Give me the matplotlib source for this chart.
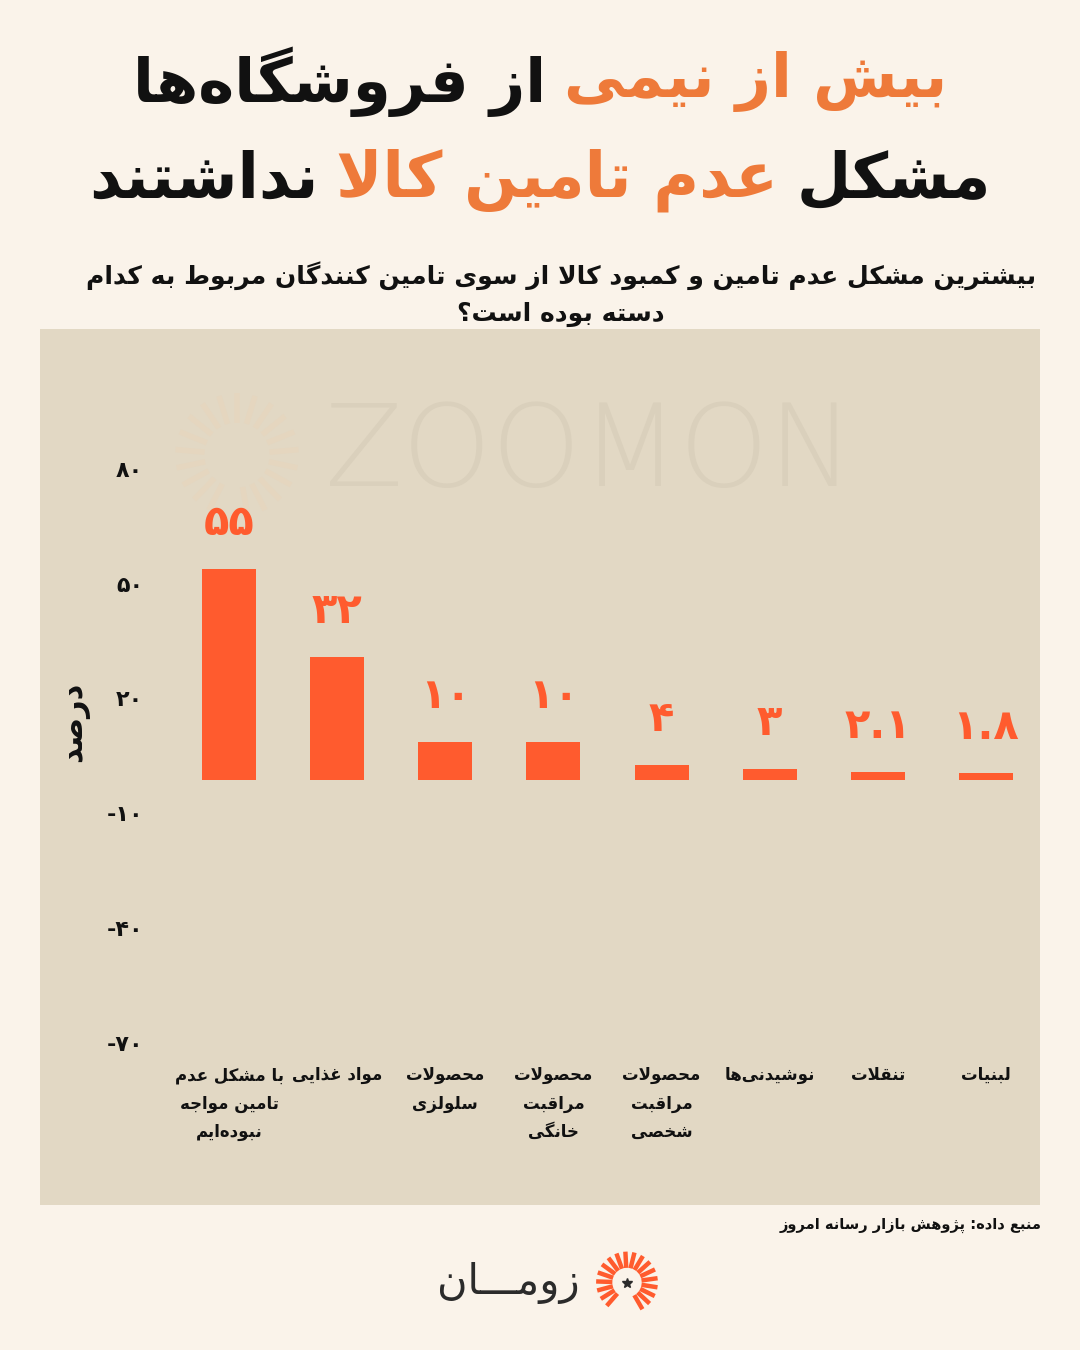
import matplotlib
matplotlib.use('Agg')
import matplotlib.pyplot as plt
from matplotlib.patches import Rectangle
from matplotlib.transforms import ScaledTranslation
import numpy as np

# ---- data ----
categories = ['با مشکل عدم\nتامین مواجه\nنبوده\u200cایم', 'مواد غذایی', 'محصولات\nسلولزی',
              'محصولات\nمراقبت\nخانگی', 'محصولات\nمراقبت\nشخصی', 'نوشیدنی\u200cها',
              'تنقلات', 'لبنیات']
values = [55, 32, 10, 10, 4, 3, 2.1, 1.8]
value_labels = ['۵۵', '۳۲', '۱۰', '۱۰', '۴', '۳', '۲.۱', '۱.۸']
yticks = [80, 50, 20, -10, -40, -70]
ytick_labels = ['۸۰', '۵۰', '۲۰', '-۱۰', '-۴۰', '-۷۰']

title_1 = [('بیش از نیمی', 'orange'), ('از فروشگاه\u200cها', 'black')]
title_2 = [('مشکل', 'black'), ('عدم تامین کالا', 'orange'), ('نداشتند', 'black')]
subtitle = ['بیشترین مشکل عدم تامین و کمبود کالا از سوی تامین کنندگان مربوط به کدام', 'دسته بوده است؟']
ylabel = 'درصد'
source = 'منبع داده: پژوهش بازار رسانه امروز'
brand = 'زومـــان'

BG = '#FAF3EA'
PANEL = '#E2D8C4'
BAR = '#FF5B2E'
ORANGE = '#EE7A3A'
INK = '#111111'

# ---- tiny Persian shaper (matplotlib has no RTL shaping) ----
# iso, final, initial, medial
FORMS = {}
def _four(ch, start):
    FORMS[ch] = (chr(start), chr(start + 1), chr(start + 2), chr(start + 3))
def _two(ch, start):
    FORMS[ch] = (chr(start), chr(start + 1), None, None)

_two('\u0622', 0xFE81); _two('\u0623', 0xFE83); _two('\u0624', 0xFE85); _two('\u0625', 0xFE87)
_four('\u0626', 0xFE89); _two('\u0627', 0xFE8D); _four('\u0628', 0xFE8F); _two('\u0629', 0xFE93)
_four('\u062A', 0xFE95); _four('\u062B', 0xFE99); _four('\u062C', 0xFE9D); _four('\u062D', 0xFEA1)
_four('\u062E', 0xFEA5); _two('\u062F', 0xFEA9); _two('\u0630', 0xFEAB); _two('\u0631', 0xFEAD)
_two('\u0632', 0xFEAF); _four('\u0633', 0xFEB1); _four('\u0634', 0xFEB5); _four('\u0635', 0xFEB9)
_four('\u0636', 0xFEBD); _four('\u0637', 0xFEC1); _four('\u0638', 0xFEC5); _four('\u0639', 0xFEC9)
_four('\u063A', 0xFECD); _four('\u0641', 0xFED1); _four('\u0642', 0xFED5); _four('\u0643', 0xFED9)
_four('\u0644', 0xFEDD); _four('\u0645', 0xFEE1); _four('\u0646', 0xFEE5); _four('\u0647', 0xFEE9)
_two('\u0648', 0xFEED); _two('\u0649', 0xFEEF); _four('\u064A', 0xFEF1)
_four('\u067E', 0xFB56); _four('\u0686', 0xFB7A); _two('\u0698', 0xFB8A)
_four('\u06A9', 0xFB8E); _four('\u06AF', 0xFB92); _four('\u06CC', 0xFBFC)
FORMS['\u0640'] = ('\u0640',) * 4  # tatweel joins both ways


def _dual(ch):
    return ch in FORMS and FORMS[ch][2] is not None


def shape(text):
    out = []
    n = len(text)
    i = 0
    while i < n:
        ch = text[i]
        if ch not in FORMS:
            if ch != '\u200c':
                out.append(ch)
            i += 1
            continue
        prev = text[i - 1] if i > 0 else ''
        joins_prev = _dual(prev)
        if ch == '\u0644' and i + 1 < n and text[i + 1] == '\u0627':
            out.append('\uFEFC' if joins_prev else '\uFEFB')
            i += 2
            continue
        nxt = text[i + 1] if i + 1 < n else ''
        joins_next = _dual(ch) and nxt in FORMS
        iso, fin, ini, med = FORMS[ch]
        if joins_prev and joins_next:
            out.append(med)
        elif joins_prev:
            out.append(fin)
        elif joins_next:
            out.append(ini)
        else:
            out.append(iso)
        i += 1
    return ''.join(out)[::-1]


def fa(text):
    return '\n'.join(shape(line) for line in text.split('\n'))


plt.rcParams['font.family'] = ['DejaVu Sans']

fig = plt.figure(figsize=(10.8, 13.5), dpi=100, facecolor=BG)
W, H = 1080, 1350

def fx(px):
    return px / W

def fy(py):
    return 1 - py / H

# chart panel
fig.patches.append(Rectangle((fx(40), fy(1205)), fx(1040) - fx(40), fy(329) - fy(1205),
                             transform=fig.transFigure, facecolor=PANEL, edgecolor='none', zorder=-5))

# watermark
fig.text(fx(590), fy(455), 'ZOOMON', fontsize=82, color='#DAD0BC', ha='center', va='center',
         fontweight='light', zorder=-4)
wm = fig.add_axes([fx(172), fy(520), fx(130), fy(390) - fy(520)], zorder=-4)
wm.set_xlim(-1, 1); wm.set_ylim(-1, 1); wm.set_aspect('equal'); wm.axis('off')
for ang in np.arange(-80, 250, 17):
    a = np.deg2rad(ang)
    wm.plot([0.5 * np.cos(a), 0.95 * np.cos(a)], [0.5 * np.sin(a), 0.95 * np.sin(a)],
            color='#E5D6BF', lw=4, solid_capstyle='butt')

# ---- axes ----
ppu = 3.83
zero_px = 780
ymax, ymin = 95, -75
top_px = zero_px - ymax * ppu
bot_px = zero_px - ymin * ppu
ax = fig.add_axes([fx(175), fy(bot_px), fx(1040) - fx(175), fy(top_px) - fy(bot_px)])
ax.set_facecolor('none')
x = np.arange(len(values))
ax.bar(x, values, width=0.5, color=BAR, zorder=3)
ax.set_xlim(-0.5, len(values) - 0.5)
ax.set_ylim(ymin, ymax)
for s in ax.spines.values():
    s.set_visible(False)
ax.set_yticks(yticks)
ax.set_yticklabels(ytick_labels, fontsize=16, fontweight='bold', color=INK)
ax.tick_params(axis='y', length=0, pad=23)
lift = ScaledTranslation(0, 5 / 100, fig.dpi_scale_trans)
for lbl in ax.get_yticklabels():
    lbl.set_transform(lbl.get_transform() + lift)
ax.set_xticks(x)
ax.set_xticklabels([fa(c) for c in categories], fontsize=12, fontweight='bold', color=INK,
                   va='top', linespacing=1.75)
# labels start just under the lowest tick (y ~ 1066 px)
ax.tick_params(axis='x', length=0, pad=-(bot_px - 1066) * 72 / 100)

for xi, v, t in zip(x, values, value_labels):
    ax.annotate(t, (xi, v), xytext=(0, 46), textcoords='offset pixels', ha='center', va='center',
                fontsize=30, fontweight='bold', color=BAR)

fig.text(fx(75), fy(722), fa(ylabel), rotation=90, fontsize=22, fontweight='bold', color=INK,
         ha='center', va='center')

# ---- titles ----
fig.canvas.draw()
renderer = fig.canvas.get_renderer()

def colored_line(parts, y_px, size, gap_px):
    cols = {'orange': ORANGE, 'black': INK}
    texts = []
    for t, c in parts:
        texts.append(fig.text(0, fy(y_px), fa(t), fontsize=size, fontweight='bold', color=cols[c],
                              ha='left', va='center'))
    widths = [tt.get_window_extent(renderer).width for tt in texts]
    total = sum(widths) + gap_px * (len(texts) - 1)
    right = W / 2 + total / 2
    for tt, w in zip(texts, widths):
        tt.set_x(fx(right - w))
        right -= w + gap_px

colored_line(title_1, 82, 44, 18)
colored_line(title_2, 180, 45, 18)

fig.text(fx(561), fy(276), fa(subtitle[0]), fontsize=18, fontweight='bold', color=INK,
         ha='center', va='center')
fig.text(fx(561), fy(314), fa(subtitle[1]), fontsize=18, fontweight='bold', color=INK,
         ha='center', va='center')

fig.text(fx(1042), fy(1225), fa(source), fontsize=10.5, fontweight='bold', color=INK,
         ha='right', va='center')

# ---- brand ----
fig.text(fx(580), fy(1283), fa(brand), fontsize=30, color='#2B2B2B', ha='right', va='center')
logo = fig.add_axes([fx(592), fy(1315), fx(70), fy(1250) - fy(1315)])
logo.set_xlim(-1, 1); logo.set_ylim(-1, 1); logo.set_aspect('equal'); logo.axis('off')
for ang in np.arange(-60, 230, 17):
    a = np.deg2rad(ang)
    logo.plot([0.45 * np.cos(a), 0.95 * np.cos(a)], [0.45 * np.sin(a), 0.95 * np.sin(a)],
              color=BAR, lw=3.2, solid_capstyle='butt')
logo.plot(0, 0, marker='*', color='#2B2B2B', ms=7)

fig.savefig('out.png', dpi=100, facecolor=BG)
